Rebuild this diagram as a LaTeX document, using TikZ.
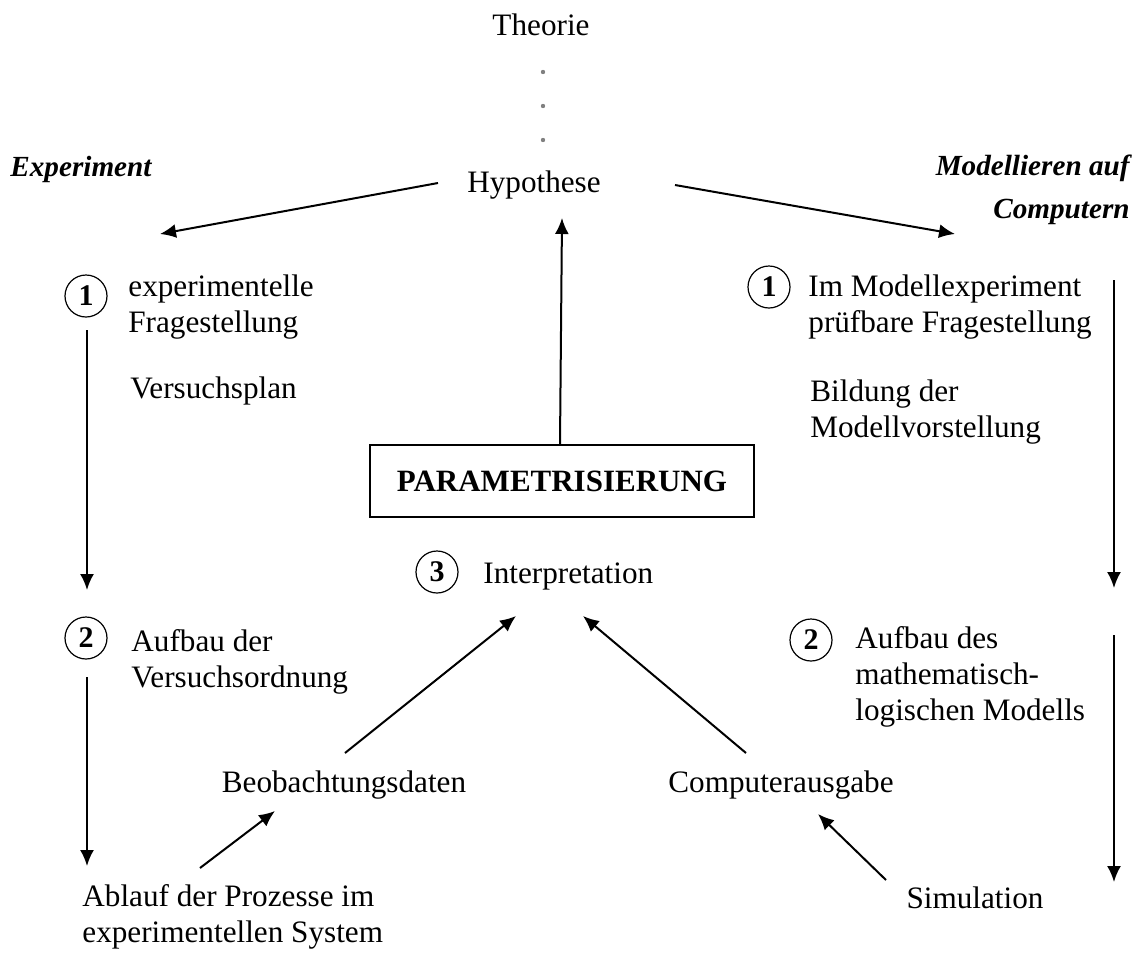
\documentclass[tikz,border=0pt]{standalone}
\usepackage{fontspec}
\setmainfont{Liberation Serif}
\usetikzlibrary{arrows.meta}
\begin{document}
\begin{tikzpicture}[x=0.5pt,y=-0.5pt,
  txt/.style={inner sep=0pt,anchor=base west,align=left,
    font=\fontsize{15.6}{17.8}\selectfont},
  ctxt/.style={txt,anchor=base},
  num/.style={draw,circle,line width=0.6pt,minimum size=21pt,inner sep=0pt,
    font=\fontsize{15}{17}\selectfont\bfseries},
  head/.style={txt,font=\fontsize{14.6}{21.5}\selectfont\bfseries\itshape},
  flow/.style={line width=1pt,-{Latex[length=8pt,width=7pt]}},
  pbox/.style={draw,line width=0.9pt,minimum width=192pt,minimum height=36pt,
    font=\fontsize{15.5}{17}\selectfont\bfseries}]
\useasboundingbox (0,0) rectangle (1137,954);

% top: theory and hypothesis
\node[ctxt] (theo) at (541,35) {Theorie};
\foreach \yy in {72,106,140}
  \fill[gray] (543,\yy) circle (1.1pt);
\node[ctxt] (hyp) at (534,192) {Hypothese};

% column headings (multi-line nodes sit on the baseline of their last line)
\node[head] (exp) at (10,176) {Experiment};
\node[head,anchor=base east,align=right] (mod) at (1130,218) {Modellieren auf\\Computern};

% central box and interpretation
\node[pbox] (param) at (562,481) {PARAMETRISIERUNG};
\node[num] (n3) at (437,572) {3};
\node[txt] (interp) at (483,583) {Interpretation};

% experiment column
\node[num] (e1) at (86,296) {1};
\node[txt] (e1t) at (128,332) {experimentelle\\Fragestellung};
\node[txt] (plan) at (130,398) {Versuchsplan};
\node[num] (e2) at (86,638) {2};
\node[txt] (e2t) at (131,687) {Aufbau der\\Versuchsordnung};
\node[txt] (ablauf) at (82,942) {Ablauf der Prozesse im\\experimentellen System};
\node[ctxt] (beob) at (344,792) {Beobachtungsdaten};

% modelling column
\node[num] (m1) at (769,287) {1};
\node[txt] (m1t) at (808,332) {Im Modellexperiment\\prüfbare Fragestellung};
\node[txt] (bild) at (810,437) {Bildung der\\Modellvorstellung};
\node[num] (m2) at (811,640) {2};
\node[txt] (m2t) at (855,720) {Aufbau des\\mathematisch-\\logischen Modells};
\node[ctxt] (comp) at (781,792) {Computerausgabe};
\node[ctxt] (sim) at (975,908) {Simulation};

% connector end points
\coordinate (hl) at (438,183);
\coordinate (hr) at (675,185);
\coordinate (el) at (160,234);
\coordinate (er) at (955,234);
\coordinate (hup) at (562,218);
\coordinate (ea) at (87,330);  \coordinate (eb) at (87,590);
\coordinate (ec) at (87,677);  \coordinate (ed) at (87,866);
\coordinate (ma) at (1114,280); \coordinate (mb) at (1114,588);
\coordinate (mc) at (1114,635); \coordinate (md) at (1114,882);
\coordinate (ab) at (200,868); \coordinate (bb) at (275,811);
\coordinate (bt) at (345,753); \coordinate (il) at (516,616);
\coordinate (sm) at (886,880); \coordinate (cm) at (818,814);
\coordinate (ct) at (746,753); \coordinate (ir) at (583,616);

\draw[flow] (hl) -- (el);
\draw[flow] (hr) -- (er);
\draw[flow] (param.north) ++(-2,0) -- (hup);
\draw[flow] (ea) -- (eb);
\draw[flow] (ec) -- (ed);
\draw[flow] (ma) -- (mb);
\draw[flow] (mc) -- (md);
\draw[flow] (ab) -- (bb);
\draw[flow] (bt) -- (il);
\draw[flow] (sm) -- (cm);
\draw[flow] (ct) -- (ir);
\end{tikzpicture}
\end{document}
